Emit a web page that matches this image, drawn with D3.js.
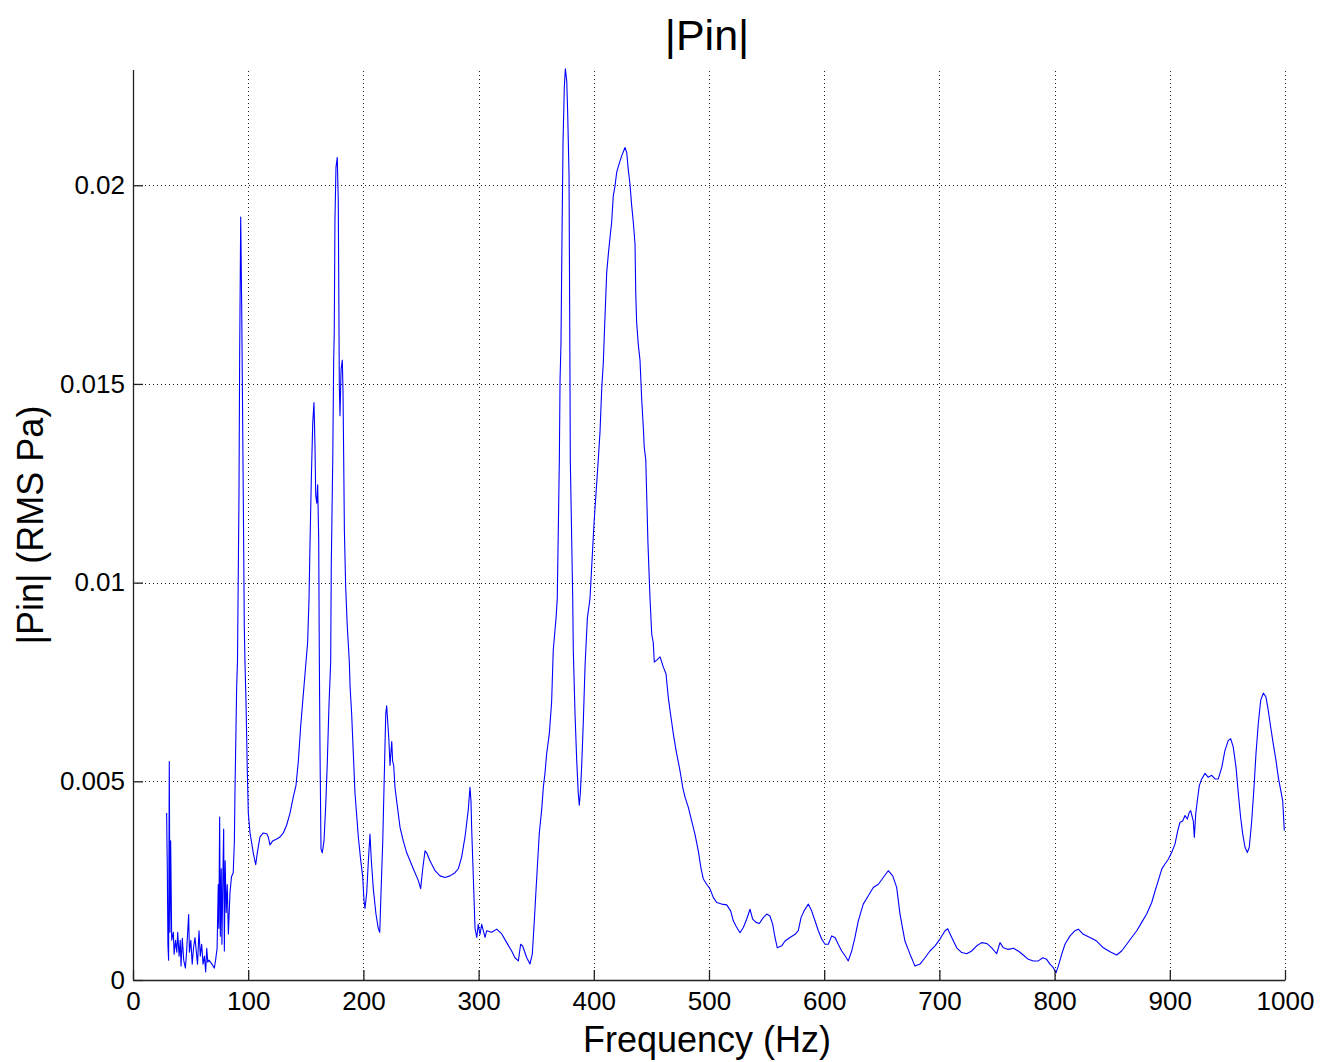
<!DOCTYPE html>
<html>
<head>
<meta charset="utf-8">
<script src="https://cdn.jsdelivr.net/npm/d3@7"></script>
<style>
  body { margin: 0; background: #fff; }
  svg text { font-family: "Liberation Sans", Arial, Helvetica, sans-serif; fill: #000; }
</style>
</head>
<body>
<div id="chart"></div>
<script>
// |Pin| spectrum

const freq = [
  29.2, 29.8, 30.3, 30.9, 31.5, 32.1, 32.7, 33.6, 35.0, 35.7, 36.9, 38.0, 38.8, 40.0, 41.0, 41.7,
  42.8, 44.0, 45.5, 46.5, 48.3, 49.0, 50.2, 51.4, 52.5, 53.8, 55.0, 56.0, 57.3, 58.4, 59.6, 60.8,
  62.0, 63.1, 64.0, 64.9, 66.0, 68.5, 70.6, 71.7, 73.0, 74.0, 74.5, 75.2, 75.8, 76.6, 77.2, 78.1,
  78.7, 79.3, 80.0, 80.9, 81.8, 82.8, 84.2, 85.5, 87.0, 88.0, 88.5, 90.0, 90.7, 92.0, 92.6, 93.5,
  94.4, 95.7, 96.6, 97.2, 98.1, 99.2, 100.1, 101.6, 104.4, 106.5, 107.9, 110.2, 113.1, 116.1, 117.4, 118.9,
  121.3, 124.7, 127.6, 130.5, 133.4, 136.3, 139.1, 141.5, 143.5, 145.6, 147.3, 149.3, 151.6, 152.8, 153.6, 154.8,
  156.0, 157.1, 158.0, 158.6, 159.5, 160.3, 161.2, 161.7, 162.3, 163.2, 164.3, 165.8, 167.3, 168.7, 170.1, 171.6,
  172.1, 173.4, 174.2, 174.7, 175.3, 176.2, 177.3, 178.2, 179.1, 179.7, 180.6, 181.7, 182.3, 182.9, 183.5, 184.6,
  186.0, 187.8, 188.4, 189.8, 192.7, 195.6, 197.7, 199.4, 200.5, 201.4, 202.9, 204.3, 205.7, 206.9, 208.6, 210.9,
  212.9, 214.2, 215.3, 216.8, 218.1, 219.4, 220.2, 221.1, 222.2, 223.1, 224.6, 225.4, 226.3, 227.4, 228.9, 231.8,
  234.6, 237.6, 240.5, 243.3, 247.7, 249.7, 251.5, 253.5, 254.9, 257.8, 262.2, 266.5, 270.8, 275.2, 279.5, 282.4,
  285.3, 288.2, 291.1, 292.5, 293.4, 294.0, 295.4, 296.9, 298.4, 299.7, 301.2, 302.7, 305.6, 307.0, 311.4, 315.7,
  320.1, 324.4, 328.7, 331.6, 334.5, 336.5, 338.3, 341.8, 344.6, 346.6, 348.4, 349.8, 351.3, 352.7, 354.8, 356.2,
  357.6, 359.1, 361.4, 363.4, 364.8, 367.2, 368.3, 370.1, 370.7, 371.5, 372.4, 373.3, 374.4, 375.3, 376.5, 377.3,
  378.5, 379.3, 379.6, 381.7, 382.2, 383.7, 385.2, 386.5, 387.4, 388.3, 389.5, 390.9, 392.4, 394.4, 396.7, 400.2,
  403.9, 405.4, 406.9, 408.2, 409.7, 411.2, 412.6, 414.1, 415.5, 416.9, 418.4, 419.9, 421.9, 424.2, 427.1, 428.6,
  429.9, 431.4, 432.9, 434.3, 435.8, 436.4, 437.2, 438.6, 440.1, 441.6, 443.0, 443.8, 445.1, 447.0, 448.8, 450.3,
  451.6, 452.5, 454.6, 457.5, 460.3, 462.7, 464.7, 466.1, 469.0, 471.4, 474.8, 477.2, 479.2, 482.0, 485.0, 487.8,
  490.7, 493.1, 495.1, 498.0, 500.9, 503.7, 506.7, 511.0, 515.4, 518.8, 521.1, 523.4, 526.9, 529.8, 532.7, 535.6,
  537.9, 540.8, 543.7, 547.1, 550.1, 552.9, 555.3, 557.3, 559.3, 563.1, 566.0, 570.3, 574.7, 577.5, 579.9, 582.5,
  586.2, 589.1, 592.0, 594.9, 597.8, 600.7, 603.6, 606.5, 609.4, 612.2, 615.2, 618.1, 620.9, 623.9, 626.7, 629.6,
  633.9, 638.3, 642.6, 647.0, 651.3, 655.6, 659.5, 662.9, 665.8, 670.1, 674.5, 678.8, 683.2, 687.5, 691.8, 696.2,
  700.5, 704.9, 707.2, 710.7, 715.0, 719.4, 723.7, 728.0, 732.4, 736.7, 741.1, 745.4, 749.7, 752.6, 755.5, 759.8,
  764.2, 768.5, 772.8, 777.2, 781.5, 785.9, 789.7, 793.1, 796.0, 798.9, 801.2, 803.2, 806.2, 809.0, 813.4, 817.7,
  820.6, 824.9, 830.7, 836.5, 842.3, 848.1, 853.9, 858.2, 862.6, 866.9, 871.3, 875.6, 879.9, 884.3, 887.2, 890.0,
  893.0, 895.8, 898.7, 901.6, 904.5, 906.9, 908.9, 911.2, 913.2, 915.2, 916.9, 918.1, 920.4, 921.3, 922.5, 923.9,
  925.6, 927.7, 930.6, 933.4, 936.4, 939.2, 942.1, 945.1, 947.9, 950.8, 952.9, 955.1, 957.5, 959.5, 961.5, 963.3,
  965.3, 967.3, 969.0, 971.1, 973.1, 974.8, 976.8, 978.9, 981.2, 983.5, 985.5, 987.6, 989.8, 992.2, 994.2, 996.3,
  998.0, 999.4
];

const pin = [
  0.0042, 0.00275, 0.0009, 0.0005, 0.0055, 0.0012, 0.0035, 0.001, 0.0012, 0.00065, 0.001, 0.0007, 0.0012, 0.0006, 0.001, 0.00035,
  0.00105, 0.0005, 0.0003, 0.0007, 0.00165, 0.0007, 0.001, 0.0004, 0.0008, 0.00107, 0.0007, 0.0004, 0.00124, 0.0006, 0.0009, 0.0004,
  0.0006, 0.0002, 0.0008, 0.00045, 0.0005, 0.0004, 0.0003, 0.0005, 0.0008, 0.0024, 0.0013, 0.0041, 0.0011, 0.0028, 0.0009, 0.0028,
  0.0038, 0.00073, 0.003, 0.0017, 0.0024, 0.00116, 0.0022, 0.0026, 0.0027, 0.0035, 0.0047, 0.0074, 0.008, 0.0122, 0.0158, 0.0192,
  0.0168, 0.0123, 0.0089, 0.008, 0.007, 0.0053, 0.0042, 0.0037, 0.0032, 0.0029, 0.0032, 0.0036, 0.0037, 0.00368, 0.0036, 0.0034,
  0.0035, 0.00355, 0.0036, 0.0037, 0.0039, 0.0042, 0.0046, 0.0049, 0.0055, 0.0064, 0.007, 0.0077, 0.0085, 0.0096, 0.0109, 0.0126,
  0.014, 0.01453, 0.0134, 0.0122, 0.012, 0.01246, 0.0111, 0.0083, 0.00586, 0.0033, 0.0032, 0.0035, 0.0044, 0.0055, 0.0069, 0.008,
  0.0104, 0.0131, 0.0156, 0.0163, 0.0191, 0.02045, 0.0207, 0.0196, 0.01494, 0.0142, 0.01536, 0.0156, 0.0148, 0.0131, 0.0113, 0.0099,
  0.0089, 0.008, 0.0074, 0.0067, 0.0047, 0.0036, 0.003, 0.0026, 0.002, 0.0018, 0.0022, 0.003, 0.00367, 0.003, 0.0023, 0.00166,
  0.0013, 0.0012, 0.0022, 0.0035, 0.0051, 0.0067, 0.0069, 0.0065, 0.006, 0.0054, 0.006, 0.0055, 0.0054, 0.00485, 0.0045, 0.00384,
  0.0035, 0.0032, 0.003, 0.0028, 0.0025, 0.0023, 0.0028, 0.00325, 0.0032, 0.003, 0.00275, 0.00262, 0.00258, 0.00262, 0.0027, 0.0028,
  0.0031, 0.0036, 0.0043, 0.00485, 0.0045, 0.0038, 0.0026, 0.0013, 0.00107, 0.0014, 0.00115, 0.0014, 0.00107, 0.00124, 0.0012, 0.00128,
  0.00116, 0.00094, 0.00073, 0.00056, 0.00048, 0.0009, 0.00085, 0.00056, 0.0004, 0.00065, 0.0015, 0.00224, 0.003, 0.0037, 0.0043, 0.00485,
  0.0052, 0.0057, 0.0062, 0.007, 0.0083, 0.0091, 0.0096, 0.0131, 0.0151, 0.016, 0.0187, 0.0211, 0.02246, 0.02293, 0.02263, 0.02184,
  0.02028, 0.01528, 0.0131, 0.0096, 0.0083, 0.0067, 0.0055, 0.0047, 0.0044, 0.0047, 0.0054, 0.0065, 0.0079, 0.0091, 0.0096, 0.0115,
  0.0131, 0.0138, 0.0149, 0.0155, 0.01667, 0.0178, 0.01826, 0.01869, 0.01907, 0.01973, 0.01998, 0.02033, 0.02053, 0.02074, 0.02095, 0.02082,
  0.0204, 0.02003, 0.01948, 0.01907, 0.01851, 0.0173, 0.01655, 0.016, 0.0156, 0.0146, 0.0139, 0.0134, 0.0131, 0.011, 0.0096, 0.0087,
  0.0085, 0.008, 0.00805, 0.00813, 0.00788, 0.0077, 0.0071, 0.0068, 0.0062, 0.00578, 0.00527, 0.00485, 0.0046, 0.00435, 0.004, 0.00367,
  0.00325, 0.0028, 0.00254, 0.00241, 0.00229, 0.00208, 0.00195, 0.00191, 0.00189, 0.00174, 0.00149, 0.00136, 0.00119, 0.00132, 0.00153, 0.00178,
  0.00153, 0.00145, 0.00142, 0.00157, 0.00166, 0.00161, 0.0014, 0.00107, 0.00081, 0.00086, 0.00098, 0.00107, 0.00115, 0.00124, 0.00157, 0.00174,
  0.00191, 0.00174, 0.00149, 0.00124, 0.00103, 0.0009, 0.0009, 0.00111, 0.00107, 0.0009, 0.00073, 0.00061, 0.00048, 0.00073, 0.00107, 0.00149,
  0.00191, 0.00212, 0.00233, 0.00241, 0.00258, 0.00275, 0.00262, 0.00233, 0.00166, 0.00098, 0.00065, 0.00035, 0.0004, 0.00056, 0.00073, 0.00086,
  0.00103, 0.00124, 0.00129, 0.00107, 0.00081, 0.00069, 0.00066, 0.00073, 0.00086, 0.00094, 0.00092, 0.00081, 0.00066, 0.00094, 0.00081, 0.00077,
  0.0008, 0.00073, 0.00063, 0.00052, 0.00048, 0.00048, 0.00056, 0.00052, 0.0004, 0.00031, 0.00018, 0.00035, 0.00065, 0.0009, 0.00111, 0.00124,
  0.00128, 0.00115, 0.00107, 0.00098, 0.00081, 0.00071, 0.00063, 0.00073, 0.0009, 0.00107, 0.00124, 0.00145, 0.00166, 0.00195, 0.00224, 0.0025,
  0.00279, 0.00292, 0.00304, 0.00321, 0.00342, 0.00376, 0.00397, 0.004, 0.00414, 0.00405, 0.00422, 0.00426, 0.004, 0.00359, 0.00418, 0.00451,
  0.00489, 0.00506, 0.0052, 0.0051, 0.00515, 0.00506, 0.00506, 0.00535, 0.00578, 0.00603, 0.00607, 0.00586, 0.00535, 0.00468, 0.00409, 0.00367,
  0.00334, 0.00321, 0.00334, 0.004, 0.00485, 0.00569, 0.00645, 0.00704, 0.00722, 0.00712, 0.00678, 0.00636, 0.00594, 0.00552, 0.0051, 0.00477,
  0.00451, 0.00376
];

const xTicks = [0, 100, 200, 300, 400, 500, 600, 700, 800, 900, 1000];
const yTicks = [0, 0.005, 0.01, 0.015, 0.02];
const yTickLabels = ["0", "0.005", "0.01", "0.015", "0.02"];

const width = 1326, height = 1062;
const margin = {top: 70, right: 41, bottom: 82, left: 133};

const svg = d3.select("#chart").append("svg")
    .attr("width", width)
    .attr("height", height);

const x = d3.scaleLinear().domain([0, 1000]).range([margin.left, width - margin.right]);
const y = d3.scaleLinear().domain([0, 0.0229]).range([height - margin.bottom, margin.top]);

// dotted grid
const grid = svg.append("g")
    .attr("stroke", "#222")
    .attr("stroke-width", 1)
    .attr("stroke-dasharray", "1,3");

grid.selectAll("line.gx")
    .data(xTicks.slice(1))
    .enter().append("line")
    .attr("x1", d => Math.round(x(d)) + 0.5)
    .attr("x2", d => Math.round(x(d)) + 0.5)
    .attr("y1", y(0))
    .attr("y2", margin.top);

grid.selectAll("line.gy")
    .data(yTicks.slice(1))
    .enter().append("line")
    .attr("y1", d => Math.round(y(d)) + 0.5)
    .attr("y2", d => Math.round(y(d)) + 0.5)
    .attr("x1", x(0))
    .attr("x2", x(1000));

// the curve
const line = d3.line()
    .x((d, i) => x(freq[i]))
    .y(d => y(d));

svg.append("path")
    .datum(pin)
    .attr("fill", "none")
    .attr("stroke", "#0000ff")
    .attr("stroke-width", 1.1)
    .attr("stroke-linejoin", "round")
    .attr("d", line);

// axes, ticks pointing inward
const xAxis = svg.append("g")
    .attr("transform", `translate(0,${y(0)})`)
    .call(d3.axisBottom(x).tickValues(xTicks).tickSizeInner(-10).tickSizeOuter(0).tickPadding(12).tickFormat(d3.format("d")));

const yAxis = svg.append("g")
    .attr("transform", `translate(${x(0)},0)`)
    .call(d3.axisLeft(y).tickValues(yTicks).tickSizeInner(-10).tickSizeOuter(0).tickPadding(8)
        .tickFormat((d, i) => yTickLabels[i]));

[xAxis, yAxis].forEach(g => {
    g.select(".domain").attr("stroke", "#222").attr("stroke-width", 1.3);
    g.selectAll(".tick line").attr("stroke", "#222").attr("stroke-width", 1.3);
    g.selectAll(".tick text")
        .style("font-size", "26px")
        .style("font-family", "'Liberation Sans', Arial, sans-serif")
        .attr("fill", "#000");
});
yAxis.select(".domain").attr("d", `M0.5,${margin.top}V${y(0)}`);

// title and labels
svg.append("text")
    .attr("x", 707)
    .attr("y", 50)
    .attr("text-anchor", "middle")
    .style("font-size", "43px")
    .text("|Pin|");

svg.append("text")
    .attr("x", 707)
    .attr("y", 1052)
    .attr("text-anchor", "middle")
    .style("font-size", "36px")
    .text("Frequency (Hz)");

svg.append("text")
    .attr("transform", `translate(43,${(margin.top + y(0)) / 2}) rotate(-90)`)
    .attr("text-anchor", "middle")
    .style("font-size", "36px")
    .text("|Pin| (RMS Pa)");
</script>
</body>
</html>
